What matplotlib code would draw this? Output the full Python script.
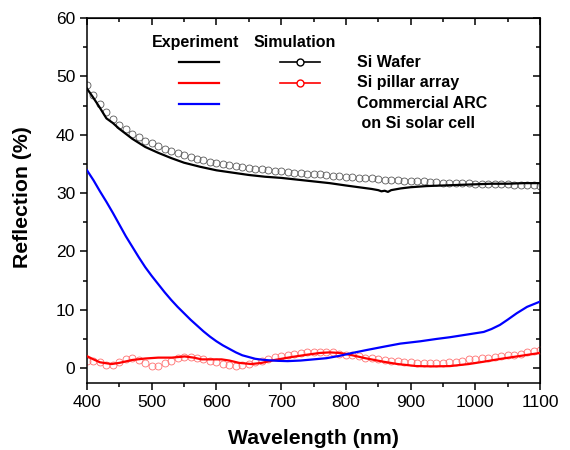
import numpy as np
import matplotlib
matplotlib.use("Agg")
import matplotlib.pyplot as plt
from matplotlib.ticker import MultipleLocator

plt.rcParams['font.family'] = ['Liberation Sans', 'DejaVu Sans']

# ---- measured (experiment) curves ----
wl_si_exp = [400, 410, 420, 430, 440, 450, 470, 490, 510, 530, 550, 575, 600, 625, 650,
             675, 700, 725, 750, 775, 800, 820, 840, 850, 855, 860, 865, 870, 885, 900,
             925, 950, 975, 1000, 1025, 1050, 1075, 1100]
r_si_exp = [47.9, 46.3, 44.6, 42.8, 42.0, 41.0, 39.3, 37.9, 36.9, 36.0, 35.2, 34.5, 33.9, 33.5, 33.1,
            32.8, 32.6, 32.3, 32.0, 31.7, 31.3, 31.0, 30.7, 30.5, 30.3, 30.4, 30.2, 30.5, 30.8, 31.0,
            31.2, 31.3, 31.4, 31.5, 31.6, 31.6, 31.7, 31.7]

wl_pillar_exp = [400, 410, 420, 438, 450, 470, 490, 510, 531, 551, 565, 577, 590, 608, 620,
                 635, 654, 670, 690, 716, 740, 760, 775, 790, 806, 830, 858, 880, 909, 935,
                 961, 990, 1013, 1040, 1070, 1100]
r_pillar_exp = [2.05, 1.5, 1.0, 0.7, 0.9, 1.4, 1.65, 1.8, 1.8, 2.0, 1.8, 1.5, 1.5, 1.5, 1.3,
                0.9, 0.7, 0.9, 1.4, 1.9, 2.3, 2.6, 2.7, 2.6, 2.3, 1.7, 1.1, 0.7, 0.35, 0.3,
                0.35, 0.7, 1.1, 1.6, 2.1, 2.6]

wl_arc_exp = [400, 410, 420, 430, 440, 450, 460, 470, 480, 490, 500, 510, 520, 530, 540,
              550, 560, 570, 580, 590, 600, 610, 620, 630, 640, 650, 660, 670, 680, 695,
              710, 730, 750, 770, 790, 810, 832, 860, 884, 915, 940, 961, 990, 1013, 1025,
              1038, 1050, 1064, 1080, 1100]
r_arc_exp = [33.9, 32.2, 30.3, 28.5, 26.6, 24.6, 22.6, 20.8, 19.0, 17.3, 15.8, 14.4, 13.0, 11.7, 10.5,
             9.4, 8.3, 7.3, 6.3, 5.4, 4.6, 3.9, 3.3, 2.7, 2.2, 1.9, 1.6, 1.45, 1.35, 1.25,
             1.2, 1.3, 1.5, 1.7, 2.1, 2.6, 3.1, 3.7, 4.2, 4.6, 5.0, 5.3, 5.8, 6.2, 6.7,
             7.4, 8.3, 9.4, 10.5, 11.4]

# ---- simulated curves (every 10 nm) ----
wl_sim = list(range(400, 1101, 10))
r_si_sim = [48.5, 46.8, 45.2, 43.9, 42.7, 41.7, 40.9, 40.2, 39.6, 39.0,
            38.5, 38.0, 37.6, 37.2, 36.8, 36.5, 36.2, 35.9, 35.6, 35.4,
            35.1, 34.9, 34.8, 34.6, 34.5, 34.3, 34.2, 34.1, 33.9, 33.8,
            33.7, 33.6, 33.5, 33.4, 33.3, 33.3, 33.2, 33.1, 33.0, 32.9,
            32.8, 32.7, 32.6, 32.5, 32.5, 32.4, 32.3, 32.3, 32.2, 32.1,
            32.1, 32.0, 32.0, 31.9, 31.9, 31.8, 31.8, 31.7, 31.7, 31.7,
            31.6, 31.6, 31.6, 31.6, 31.5, 31.5, 31.4, 31.4, 31.3, 31.3,
            31.2]
r_pillar_sim = [1.2, 1.3, 1.0, 0.5, 0.5, 1.0, 1.6, 1.7, 1.4, 0.9,
                0.4, 0.4, 0.8, 1.3, 1.7, 1.9, 1.9, 1.7, 1.5, 1.3,
                1.0, 0.7, 0.5, 0.4, 0.5, 0.7, 1.0, 1.3, 1.6, 1.9,
                2.1, 2.3, 2.5, 2.6, 2.7, 2.8, 2.8, 2.8, 2.7, 2.5,
                2.3, 2.2, 2.0, 1.8, 1.7, 1.5, 1.4, 1.3, 1.2, 1.1,
                1.0, 0.9, 0.8, 0.8, 0.8, 0.9, 1.0, 1.1, 1.3, 1.5,
                1.6, 1.7, 1.8, 1.9, 2.0, 2.2, 2.3, 2.5, 2.7, 2.9,
                3.1]

fig = plt.figure(figsize=(5.7, 4.5), dpi=100)
ax = fig.add_axes([87 / 570, 1 - 383.3 / 450, 453 / 570, 365.3 / 450])

# simulation circles
ax.plot(wl_sim, r_si_sim, 'o', ms=5, mfc='none', mec='0.35', mew=0.6, zorder=2)
ax.plot(wl_sim, r_pillar_sim, 'o', ms=5, mfc='none', mec='#ff7070', mew=0.6, zorder=2)

# experiment lines
ax.plot(wl_si_exp, r_si_exp, color='black', lw=1.6, zorder=3)
ax.plot(wl_pillar_exp, r_pillar_exp, color='red', lw=1.6, zorder=3)
ax.plot(wl_arc_exp, r_arc_exp, color='blue', lw=1.6, zorder=3)

ax.set_xlim(400, 1100)
ax.set_ylim(-2.6, 60)
ax.xaxis.set_major_locator(MultipleLocator(100))
ax.xaxis.set_minor_locator(MultipleLocator(50))
ax.yaxis.set_major_locator(MultipleLocator(10))
ax.yaxis.set_minor_locator(MultipleLocator(5))
ax.tick_params(which='major', direction='out', length=5, width=1.1, labelsize=12.5)
ax.tick_params(which='minor', direction='out', length=3, width=1.1)
for s in ax.spines.values():
    s.set_linewidth(1.1)

# inward mirror ticks on top and right
top = ax.secondary_xaxis('top')
top.xaxis.set_major_locator(MultipleLocator(100))
top.xaxis.set_minor_locator(MultipleLocator(50))
top.tick_params(which='major', direction='in', length=5, width=1.1, labeltop=False)
top.tick_params(which='minor', direction='in', length=3, width=1.1)
right = ax.secondary_yaxis('right')
right.yaxis.set_major_locator(MultipleLocator(10))
right.yaxis.set_minor_locator(MultipleLocator(5))
right.tick_params(which='major', direction='in', length=5, width=1.1, labelright=False)
right.tick_params(which='minor', direction='in', length=3, width=1.1)

ax.set_xlabel('Wavelength (nm)', fontsize=15.3, fontweight='bold')
ax.set_ylabel('Reflection (%)', fontsize=15.3, fontweight='bold')
ax.xaxis.set_label_coords(0.5, -0.125)
ax.yaxis.set_label_coords(-0.121, 0.51)

# hand-made legend
lfs = 11.5
ax.text(568, 55.8, 'Experiment', ha='center', va='center', fontsize=lfs, fontweight='bold')
ax.text(658, 55.8, 'Simulation', ha='left', va='center', fontsize=lfs, fontweight='bold')
rows_y = [52.4, 48.9, 45.3]
exp_colors = ['black', 'red', 'blue']
for y, c in zip(rows_y, exp_colors):
    ax.plot([542, 604], [y, y], color=c, lw=1.6)
sim_colors = ['black', 'red']
for y, c in zip(rows_y[:2], sim_colors):
    ax.plot([698, 760], [y, y], color=c, lw=1.2)
    ax.plot([729], [y], 'o', ms=5, mfc='white', mec=c, mew=1.0)
ax.text(817, 52.4, 'Si Wafer', va='center', fontsize=lfs, fontweight='bold')
ax.text(817, 48.9, 'Si pillar array', va='center', fontsize=lfs, fontweight='bold')
ax.text(817, 45.3, 'Commercial ARC', va='center', fontsize=lfs, fontweight='bold')
ax.text(817, 42.0, ' on Si solar cell', va='center', fontsize=lfs, fontweight='bold')

fig.savefig('out.png', dpi=100)
